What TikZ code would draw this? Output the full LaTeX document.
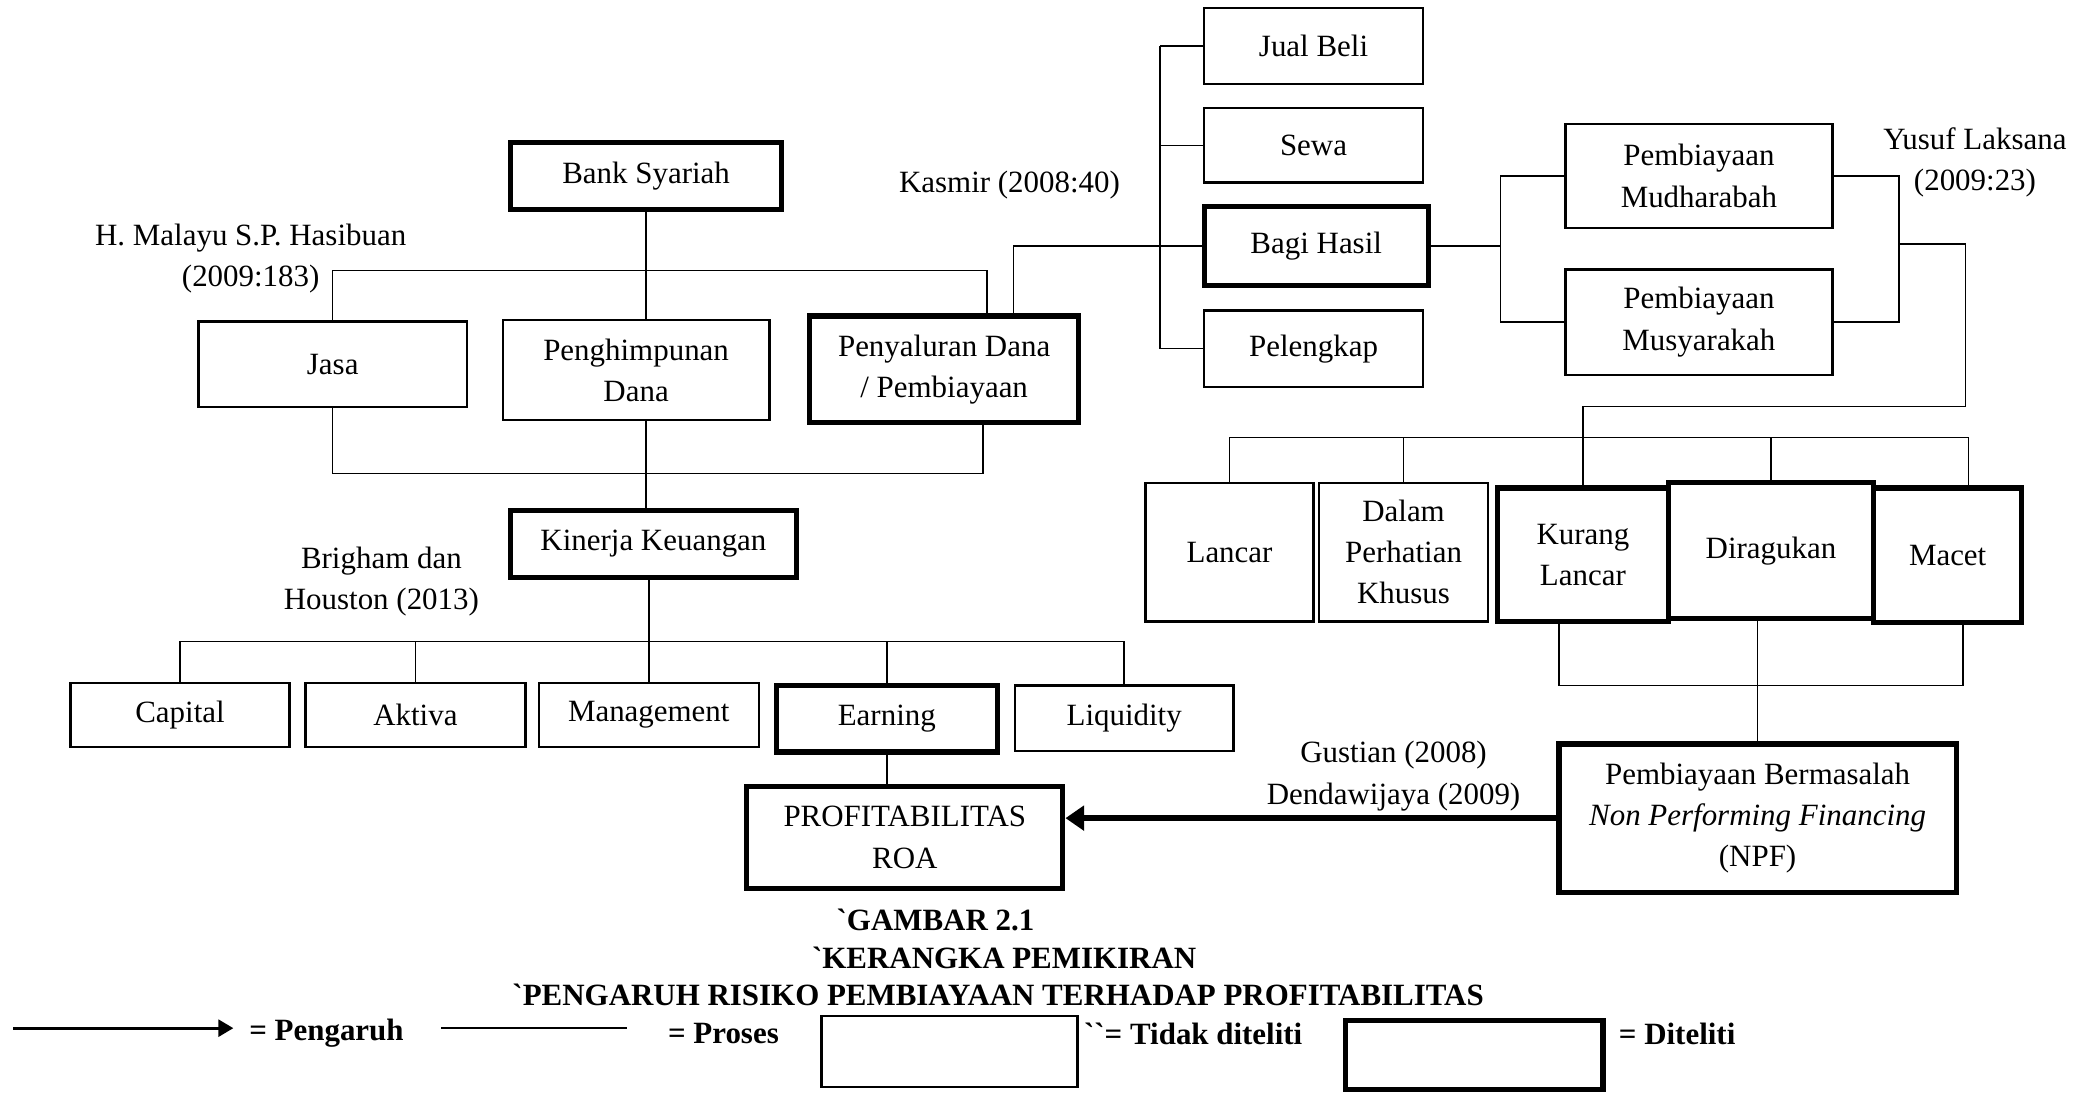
\documentclass[tikz,border=0pt]{standalone}
\usepackage{fontspec}
\setmainfont{Liberation Serif}
\usetikzlibrary{arrows.meta}
\tikzset{
  ukuran/.style 2 args={minimum width=#1*0.025cm, minimum height=#2*0.025cm},
  kotak/.style={draw, line width=1.3pt, fill=white, align=center, inner sep=1pt},
  kotaktebal/.style={kotak, line width=2.8pt},
  garis/.style={line width=0.8pt},
  pengaruh/.style={line width=3.4pt, -{Triangle[length=10pt,width=13pt]}},
  legpanah/.style={line width=1.6pt, -{Triangle[length=8pt,width=9pt]}},
  judul/.style={font=\fontsize{16.5}{22}\selectfont\bfseries},
}
\begin{document}
\begin{tikzpicture}[x=0.025cm,y=-0.025cm,font=\fontsize{16.5}{22}\selectfont]
\useasboundingbox (0,0) rectangle (1568,820);

\node[kotaktebal, ukuran={203}{50}] (bank) at (484.5,132) {Bank Syariah};
\node[kotak, ukuran={201}{64}] (jasa) at (249.5,273) {Jasa};
\node[kotak, ukuran={200}{75}] (himpun) at (477,277.5) {Penghimpunan\\Dana};
\node[kotaktebal, ukuran={202}{80}] (salur) at (708,277) {Penyaluran Dana\\/ Pembiayaan};
\node[kotaktebal, ukuran={214}{50}] (kinerja) at (490,408) {Kinerja Keuangan};
\node[kotak, ukuran={164}{48}] (capital) at (135,536) {Capital};
\node[kotak, ukuran={165}{48}] (aktiva) at (311.5,536) {Aktiva};
\node[kotak, ukuran={165}{48}] (manajemen) at (486.5,536) {Management};
\node[kotaktebal, ukuran={166}{50}] (earning) at (665,539) {Earning};
\node[kotak, ukuran={164}{49}] (likuid) at (843,538.5) {Liquidity};
\node[kotaktebal, ukuran={237}{76}] (profit) at (678.5,628) {PROFITABILITAS\\ROA};

\node[kotak, ukuran={164}{57}] (jualbeli) at (985,34.5) {Jual Beli};
\node[kotak, ukuran={164}{56}] (sewa) at (985,109) {Sewa};
\node[kotaktebal, ukuran={168}{59}] (bagihasil) at (987,184.5) {Bagi Hasil};
\node[kotak, ukuran={164}{57}] (lengkap) at (985,261.5) {Pelengkap};
\node[kotak, ukuran={200}{78}] (mudharabah) at (1274,132) {Pembiayaan\\Mudharabah};
\node[kotak, ukuran={200}{79}] (musyarakah) at (1274,241.5) {Pembiayaan\\Musyarakah};

\node[kotak, ukuran={126}{104}] (lancar) at (922,414) {Lancar};
\node[kotak, ukuran={127}{104}] (dalam) at (1052.5,414) {Dalam\\Perhatian\\Khusus};
\node[kotaktebal, ukuran={128}{100}] (kurang) at (1187,416) {Kurang\\Lancar};
\node[kotaktebal, ukuran={154}{102}] (ragu) at (1328,413) {Diragukan};
\node[kotaktebal, ukuran={111}{101}] (macet) at (1460.5,416.5) {Macet};
\node[kotaktebal, ukuran={298}{111}] (npf) at (1318,613.5) {Pembiayaan Bermasalah\\\textit{Non Performing Financing}\\(NPF)};

\node[align=center] (hasibuan) at (188,194) {H. Malayu S.P. Hasibuan\\(2009:183)};
\node (kasmir) at (757,139) {Kasmir (2008:40)};
\node[align=center] (yusuf) at (1481,122) {Yusuf Laksana\\(2009:23)};
\node[align=center] (brigham) at (286,436) {Brigham dan\\Houston (2013)};
\node[align=center] (gustian) at (1045,582) {Gustian (2008)\\Dendawijaya (2009)};

\coordinate (c1) at (740,203);
\coordinate (c2) at (737,355);
\draw[garis] (bank.south) -- (bank.south |- himpun.north);
\draw[garis] (jasa.north) |- (c1) -- (c1 |- salur.north);
\draw[garis] (jasa.south) |- (c2) -- (c2 |- salur.south);
\draw[garis] (bank.south |- himpun.south) -- (bank.south |- kinerja.north);

\coordinate (c3) at (135,481);
\coordinate (c4) at (843,481);
\draw[garis] (c3) -- (c4);
\draw[garis] (manajemen.north |- kinerja.south) -- (manajemen.north);
\foreach \n in {capital,aktiva,earning,likuid}
  \draw[garis] (\n.north) -- (\n.north |- c3);
\draw[garis] (earning.south) -- (earning.south |- profit.north);

\coordinate (c5) at (760,184.5);
\coordinate (c6) at (870,184.5);
\draw[garis] (c5 |- salur.north) -- (c5) -- (c6);
\draw[garis] (c6 |- jualbeli.west) -- (c6 |- lengkap.west);
\foreach \n in {jualbeli,sewa,bagihasil,lengkap}
  \draw[garis] (\n.west) -- (\n.west -| c6);

\coordinate (c7) at (1125,184.5);
\draw[garis] (bagihasil.east) -- (c7);
\draw[garis] (mudharabah.west) -| (c7) |- (musyarakah.west);

\coordinate (c8) at (1424,183);
\coordinate (c9) at (1474,305);
\draw[garis] (mudharabah.east) -| (c8) |- (musyarakah.east);
\draw[garis] (c8) -| (c9) -| (kurang.north);

\coordinate (c10) at (1476,328);
\draw[garis] (lancar.north) |- (c10) -- (c10 |- macet.north);
\foreach \n in {dalam,ragu}
  \draw[garis] (\n.north) -- (\n.north |- c10);

\coordinate (c11) at (1169,514);
\coordinate (c12) at (1472,514);
\draw[garis] (c11 |- kurang.south) -- (c11) -- (c12) -- (c12 |- macet.south);
\draw[garis] (npf.north |- ragu.south) -- (npf.north);

\draw[pengaruh] (npf.west) -- (npf.west -| profit.east);

\node[judul] (gambar) at (701.5,690) {\textasciigrave GAMBAR 2.1};
\node[judul] (kerangka) at (753,718) {\textasciigrave KERANGKA PEMIKIRAN};
\node[judul] (judulteks) at (748.5,746) {\textasciigrave PENGARUH RISIKO PEMBIAYAAN TERHADAP PROFITABILITAS};

\coordinate (l1) at (10,771);
\coordinate (l2) at (175,771);
\coordinate (l3) at (331,771);
\coordinate (l4) at (470,771);
\draw[legpanah] (l1) -- (l2);
\draw[garis] (l3) -- (l4);
\node[judul, anchor=west] (lpengaruh) at (182,775) {= Pengaruh};
\node[judul, anchor=west] (lproses) at (496,775) {= Proses};
\node[kotak, ukuran={192}{53}] (ltidak) at (712,788.5) {};
\node[judul, anchor=west] (ltidakteks) at (808,775) {\textasciigrave\textasciigrave= Tidak diteliti};
\node[kotaktebal, ukuran={193}{52}] (lditeliti) at (1105.5,791) {};
\node[judul, anchor=west] (lditelititeks) at (1209,775) {= Diteliti};
\end{tikzpicture}
\end{document}
